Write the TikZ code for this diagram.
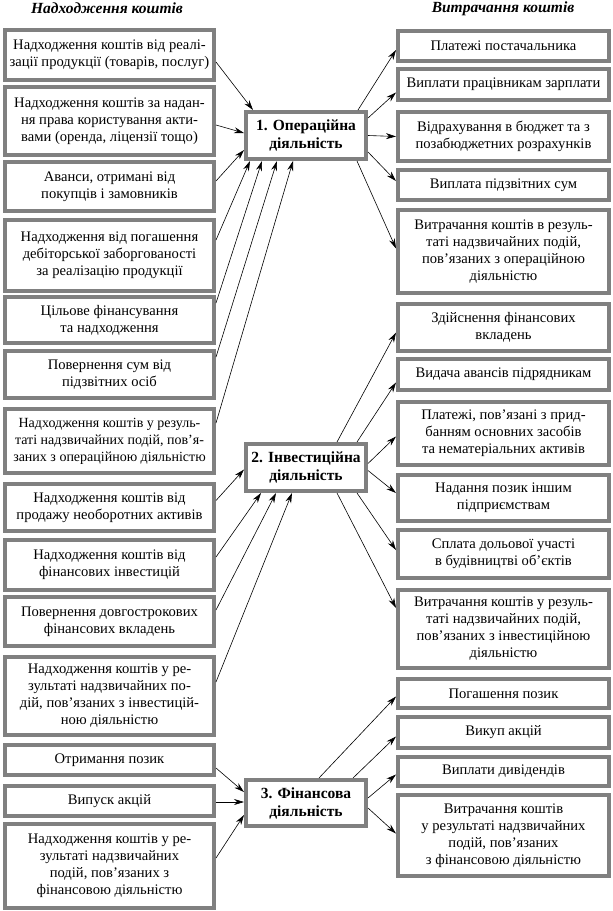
\documentclass[tikz,border=0pt]{standalone}
\usepackage{fontspec}
\setmainfont{Liberation Serif}
\usepackage{tikz}
\usetikzlibrary{arrows.meta}
\definecolor{boxgray}{RGB}{128,128,128}

\begin{document}
\begin{tikzpicture}[x=1pt, y=-1pt,
    every node/.style={font=\fontsize{14.6}{17}\selectfont, align=center, inner sep=1.5pt},
    lbox/.style={rectangle, draw=boxgray, line width=4pt, minimum width=209pt},
    rbox/.style={rectangle, draw=boxgray, line width=4pt, minimum width=211pt},
    cbox/.style={rectangle, draw=boxgray, line width=4pt, minimum width=120pt, minimum height=47pt, font=\fontsize{15.5}{18}\selectfont\bfseries},
    head/.style={font=\fontsize{15.5}{18}\selectfont\bfseries\itshape},
    arr/.style={-{Stealth[length=10pt, width=6pt]}, line width=0.6pt}]
    \useasboundingbox (0,0) rectangle (613,911);

    % Headers
    \node[head] (h1) at (107,8.5) {Надходження коштів};
    \node[head] (h2) at (503,8.5) {Витрачання коштів};

    % Centre nodes
    \node[cbox] (c1) at (306,135.5) {1. Операційна\\діяльність};
    \node[cbox] (c2) at (306,467.5) {2. Інвестиційна\\діяльність};
    \node[cbox, minimum height=46pt] (c3) at (306,803) {3. Фінансова\\діяльність};

    % Left nodes
    \node[lbox, minimum height=50pt] (l1) at (109.5,55) {Надходження коштів від реалі-\\зації продукції (товарів, послуг)};
    \node[lbox, minimum height=68pt] (l2) at (109.5,121) {Надходження коштів за надан-\\ня права користування акти-\\вами (оренда, ліцензії тощо)};
    \node[lbox, minimum height=49pt] (l3) at (109.5,186.5) {Аванси, отримані від\\покупців і замовників};
    \node[lbox, minimum height=71pt] (l4) at (109.5,255.5) {Надходження від погашення\\дебіторської заборгованості\\за реалізацію продукції};
    \node[lbox, minimum height=46pt] (l5) at (109.5,320) {Цільове фінансування\\та надходження};
    \node[lbox, minimum height=47pt] (l6) at (109.5,374.5) {Повернення сум від\\підзвітних осіб};
    \node[lbox, minimum height=64pt, font=\fontsize{14}{17}\selectfont] (l7) at (109.5,441) {Надходження коштів у резуль-\\таті надзвичайних подій, пов’я-\\заних з операційною діяльністю};
    \node[lbox, minimum height=47pt] (l8) at (109.5,507.5) {Надходження коштів від\\продажу необоротних активів};
    \node[lbox, minimum height=50pt] (l9) at (109.5,565) {Надходження коштів від\\фінансових інвестицій};
    \node[lbox, minimum height=49pt] (l10) at (109.5,621.5) {Повернення довгострокових\\фінансових вкладень};
    \node[lbox, minimum height=78pt] (l11) at (109.5,696) {Надходження коштів у ре-\\зультаті надзвичайних по-\\дій, пов’язаних з інвестицій-\\ною діяльністю};
    \node[lbox, minimum height=30pt] (l12) at (109.5,760) {Отримання позик};
    \node[lbox, minimum height=30pt] (l13) at (109.5,801) {Випуск акцій};
    \node[lbox, minimum height=84pt] (l14) at (109.5,866) {Надходження коштів у ре-\\зультаті надзвичайних\\подій, пов’язаних з\\фінансовою діяльністю};

    % Right nodes
    \node[rbox, minimum height=30pt] (r1) at (503.5,46) {Платежі постачальника};
    \node[rbox, minimum height=31pt] (r2) at (503.5,84.5) {Виплати працівникам зарплати};
    \node[rbox, minimum height=49pt] (r3) at (503.5,136.5) {Відрахування в бюджет та з\\позабюджетних розрахунків};
    \node[rbox, minimum height=30pt] (r4) at (503.5,185) {Виплата підзвітних сум};
    \node[rbox, minimum height=83pt] (r5) at (503.5,251.5) {Витрачання коштів в резуль-\\таті надзвичайних подій,\\пов’язаних з операційною\\діяльністю};
    \node[rbox, minimum height=47pt] (r6) at (503.5,327.5) {Здійснення фінансових\\вкладень};
    \node[rbox, minimum height=31pt] (r7) at (503.5,374.5) {Видача авансів підрядникам};
    \node[rbox, minimum height=63pt] (r8) at (503.5,433.5) {Платежі, пов’язані з прид-\\банням основних засобів\\та нематеріальних активів};
    \node[rbox, minimum height=46pt] (r9) at (503.5,498) {Надання позик іншим\\підприємствам};
    \node[rbox, minimum height=48pt] (r10) at (503.5,554) {Сплата дольової участі\\в будівництві об’єктів};
    \node[rbox, minimum height=78pt] (r11) at (503.5,629) {Витрачання коштів у резуль-\\таті надзвичайних подій,\\пов’язаних з інвестиційною\\діяльністю};
    \node[rbox, minimum height=29pt] (r12) at (503.5,693.5) {Погашення позик};
    \node[rbox, minimum height=31pt] (r13) at (503.5,732.5) {Викуп акцій};
    \node[rbox, minimum height=29pt] (r14) at (503.5,771.5) {Виплати дивідендів};
    \node[rbox, minimum height=81pt] (r15) at (503.5,835.5) {Витрачання коштів\\у результаті надзвичайних\\подій, пов’язаних\\з фінансовою діяльністю};

    % Edges into 1
    \draw[arr] ([yshift=-7pt]l1.east) -- ([xshift=9pt]c1.north west);
    \draw[arr] ([yshift=-4pt]l2.east) -- ([yshift=2.5pt]c1.west);
    \draw[arr] ([yshift=5.5pt]l3.east) -- ([yshift=11pt]c1.south west);
    \draw[arr] ([yshift=-22pt]l4.north east) -- ([xshift=6pt]c1.south west);
    \draw[arr] ([yshift=-8pt]l5.north east) -- ([xshift=18pt]c1.south west);
    \draw[arr] ([yshift=-8pt]l6.north east) -- ([xshift=33pt]c1.south west);
    \draw[arr] ([yshift=-16pt]l7.north east) -- ([xshift=49pt]c1.south west);

    % Edges out of 1
    \draw[arr] ([xshift=-10pt]c1.north east) -- ([yshift=-4pt]r1.west);
    \draw[arr] ([yshift=-8pt]c1.north east) -- ([yshift=-8pt]r2.west);
    \draw[arr] (c1.east) -- (r3.west);
    \draw[arr] ([yshift=9pt]c1.south east) -- ([yshift=4pt]r4.west);
    \draw[arr] ([xshift=-11pt]c1.south east) -- ([yshift=3pt]r5.west);

    % Edges into 2
    \draw[arr] ([yshift=7pt]l8.east) -- ([yshift=-2pt]c2.west);
    \draw[arr] ([yshift=-19pt]l9.north east) -- ([xshift=17pt]c2.south west);
    \draw[arr] ([yshift=-15pt]l10.north east) -- ([xshift=32pt]c2.south west);
    \draw[arr] ([yshift=-27pt]l11.north east) -- ([xshift=48pt]c2.south west);

    % Edges out of 2
    \draw[arr] ([xshift=-31pt]c2.north east) -- ([yshift=-5pt]r6.west);
    \draw[arr] ([xshift=-11pt]c2.north east) -- ([yshift=-8pt]r7.west);
    \draw[arr] ([yshift=4pt]c2.east) -- ([yshift=-3pt]r8.west);
    \draw[arr] ([yshift=-3pt]c2.east) -- ([yshift=5pt]r9.west);
    \draw[arr] ([xshift=-11pt]c2.south east) -- ([yshift=4pt]r10.west);
    \draw[arr] ([xshift=-31pt]c2.south east) -- ([yshift=21pt]r11.west);

    % Edges into 3
    \draw[arr] ([yshift=-8pt]l12.east) -- ([yshift=11pt]c3.west);
    \draw[arr] ([yshift=-1pt]l13.east) -- ([yshift=1pt]c3.west);
    \draw[arr] ([yshift=8pt]l14.east) -- ([yshift=-12pt]c3.west);

    % Edges out of 3
    \draw[arr] ([xshift=-49pt]c3.north east) -- ([yshift=-3pt]r12.west);
    \draw[arr] ([xshift=-15pt]c3.north east) -- ([yshift=-4pt]r13.west);
    \draw[arr] ([yshift=5pt]c3.east) -- ([yshift=-3pt]r14.west);
    \draw[arr] ([yshift=-5pt]c3.east) -- ([yshift=2pt]r15.west);
\end{tikzpicture}
\end{document}
